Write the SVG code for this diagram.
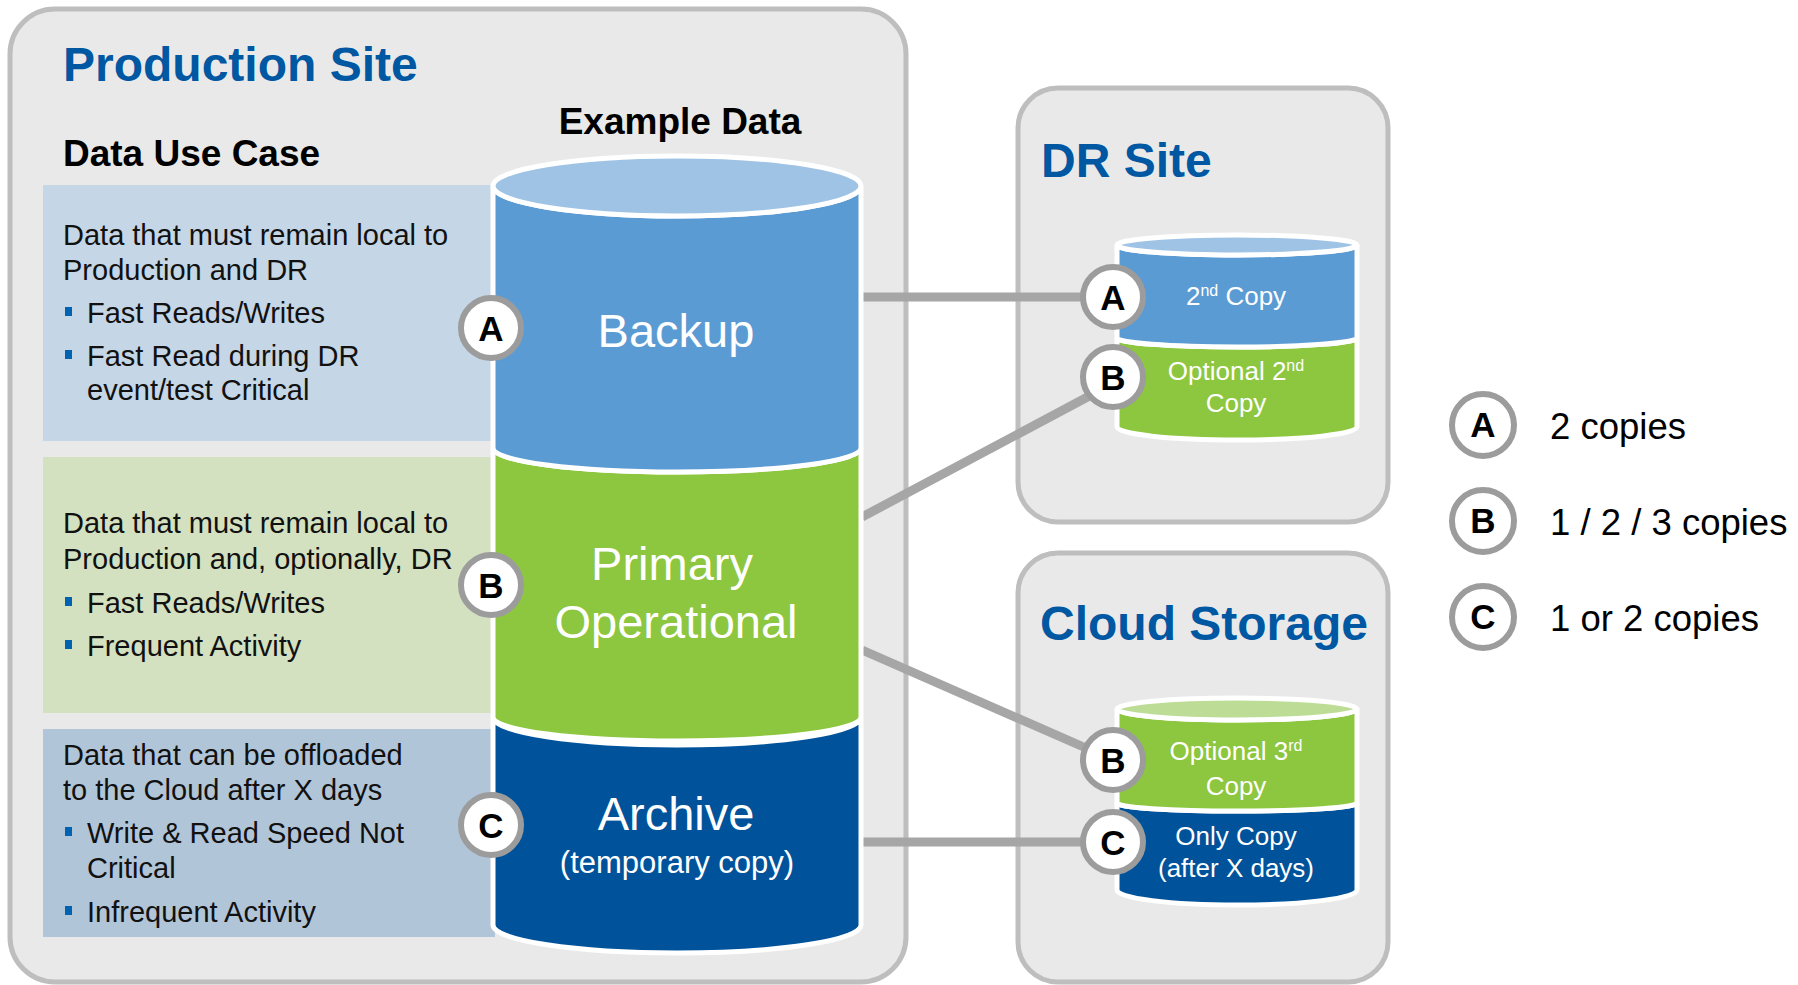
<svg xmlns="http://www.w3.org/2000/svg" width="1798" height="985" viewBox="0 0 1798 985">
<style>
.panel{fill:#E9E9E9;stroke:#BEBEBE;stroke-width:5}
.title{font-family:"Liberation Sans",Arial,sans-serif;font-weight:bold;font-size:48px;fill:#0057A2}
.head{font-family:"Liberation Sans",Arial,sans-serif;font-weight:bold;font-size:37px;fill:#000}
.body{font-family:"Liberation Sans",Arial,sans-serif;font-size:29px;fill:#111}
.big{font-family:"Liberation Sans",Arial,sans-serif;font-size:47px;fill:#fff;text-anchor:middle}
.mid{font-family:"Liberation Sans",Arial,sans-serif;font-size:31px;fill:#fff;text-anchor:middle}
.small{font-family:"Liberation Sans",Arial,sans-serif;font-size:26px;fill:#fff;text-anchor:middle}
.leg{font-family:"Liberation Sans",Arial,sans-serif;font-size:36.5px;fill:#000}
.seg{stroke:#fff;stroke-width:5}
.circ{fill:#fff;stroke:#9C9C9C;stroke-width:6}
.clab{font-family:"Liberation Sans",Arial,sans-serif;font-weight:bold;font-size:35px;fill:#000;text-anchor:middle}
.bul{fill:#0063B1}
.conn{stroke:#A6A6A6;stroke-width:9;fill:none}
</style>

<g id="production-site">
<rect class="panel" x="10" y="9" width="896" height="973" rx="45"/>
<text class="title" x="63" y="81">Production Site</text>
<text class="head" x="680" y="134" text-anchor="middle">Example Data</text>
<text class="head" x="63" y="166">Data Use Case</text>
</g>

<g id="dr-site">
<rect class="panel" x="1018" y="88" width="370" height="434" rx="40"/>
<text class="title" x="1041" y="177">DR Site</text>
</g>

<g id="cloud-storage">
<rect class="panel" x="1018" y="553" width="370" height="429" rx="40"/>
<text class="title" x="1040" y="640">Cloud Storage</text>
</g>

<g id="usecase-backup">
<rect x="43" y="185" width="452" height="256" fill="#C5D6E6"/>
<text class="body" x="63" y="245">Data that must remain local to</text>
<text class="body" x="63" y="280">Production and DR</text>
<rect class="bul" x="65" y="307" width="7" height="9"/>
<text class="body" x="87" y="323">Fast Reads/Writes</text>
<rect class="bul" x="65" y="350" width="7" height="9"/>
<text class="body" x="87" y="366">Fast Read during DR</text>
<text class="body" x="87" y="400">event/test Critical</text>
</g>

<g id="usecase-primary">
<rect x="43" y="457" width="452" height="256" fill="#D4E1C0"/>
<text class="body" x="63" y="533">Data that must remain local to</text>
<text class="body" x="63" y="569">Production and, optionally, DR</text>
<rect class="bul" x="65" y="597" width="7" height="9"/>
<text class="body" x="87" y="613">Fast Reads/Writes</text>
<rect class="bul" x="65" y="640" width="7" height="9"/>
<text class="body" x="87" y="656">Frequent Activity</text>
</g>

<g id="usecase-archive">
<rect x="43" y="729" width="452" height="208" fill="#B1C5D8"/>
<text class="body" x="63" y="765">Data that can be offloaded</text>
<text class="body" x="63" y="800">to the Cloud after X days</text>
<rect class="bul" x="65" y="827" width="7" height="9"/>
<text class="body" x="87" y="843">Write &amp; Read Speed Not</text>
<text class="body" x="87" y="878">Critical</text>
<rect class="bul" x="65" y="906" width="7" height="9"/>
<text class="body" x="87" y="922">Infrequent Activity</text>
</g>

<g id="connectors">
<line class="conn" x1="860" y1="297" x2="1090" y2="297"/>
<line class="conn" x1="862" y1="517" x2="1095" y2="393"/>
<line class="conn" x1="862" y1="650" x2="1095" y2="752"/>
<line class="conn" x1="860" y1="842" x2="1090" y2="842"/>
</g>

<g id="cylinder-main">
<path class="seg" fill="#00539B" d="M493,717 L493,925 A184,28 0 0 0 861,925 L861,717 A184,28 0 0 1 493,717 Z"/>
<path class="seg" fill="#8DC63F" d="M493,448 L493,717 A184,24 0 0 0 861,717 L861,448 A184,24 0 0 1 493,448 Z"/>
<path class="seg" fill="#5B9BD3" d="M493,186 L493,448 A184,24 0 0 0 861,448 L861,186 A184,30 0 0 1 493,186 Z"/>
<ellipse class="seg" fill="#9FC3E5" cx="677" cy="186" rx="184" ry="30"/>
<text class="big" x="676" y="347">Backup</text>
<text class="big" x="672" y="580">Primary</text>
<text class="big" x="676" y="638">Operational</text>
<text class="big" x="676" y="830">Archive</text>
<text class="mid" x="677" y="873">(temporary copy)</text>
</g>

<g id="cylinder-dr">
<path class="seg" fill="#8DC63F" d="M1117,338 L1117,427 A120,13 0 0 0 1357,427 L1357,338 A120,9 0 0 1 1117,338 Z"/>
<path class="seg" fill="#5B9BD3" d="M1117,245 L1117,338 A120,9 0 0 0 1357,338 L1357,245 A120,10 0 0 1 1117,245 Z"/>
<ellipse class="seg" fill="#9FC3E5" cx="1237" cy="245" rx="120" ry="10"/>
<text class="small" x="1236" y="305">2<tspan font-size="16" dy="-9">nd</tspan><tspan dy="9"> Copy</tspan></text>
<text class="small" x="1236" y="380">Optional 2<tspan font-size="16" dy="-9">nd</tspan></text>
<text class="small" x="1236" y="412">Copy</text>
</g>

<g id="cylinder-cloud">
<path class="seg" fill="#00539B" d="M1117,803 L1117,890 A120,15 0 0 0 1357,890 L1357,803 A120,8 0 0 1 1117,803 Z"/>
<path class="seg" fill="#8DC63F" d="M1117,709 L1117,803 A120,8 0 0 0 1357,803 L1357,709 A120,11 0 0 1 1117,709 Z"/>
<ellipse class="seg" fill="#BDDD96" cx="1237" cy="709" rx="120" ry="11"/>
<text class="small" x="1236" y="760">Optional 3<tspan font-size="16" dy="-9">rd</tspan></text>
<text class="small" x="1236" y="795">Copy</text>
<text class="small" x="1236" y="845">Only Copy</text>
<text class="small" x="1236" y="877">(after X days)</text>
</g>

<g id="badge-main-a"><circle class="circ" cx="491" cy="328" r="30"/><text class="clab" x="491" y="341">A</text></g>
<g id="badge-main-b"><circle class="circ" cx="491" cy="585" r="30"/><text class="clab" x="491" y="598">B</text></g>
<g id="badge-main-c"><circle class="circ" cx="491" cy="825" r="30"/><text class="clab" x="491" y="838">C</text></g>
<g id="badge-dr-a"><circle class="circ" cx="1113" cy="297" r="30"/><text class="clab" x="1113" y="310">A</text></g>
<g id="badge-dr-b"><circle class="circ" cx="1113" cy="377" r="30"/><text class="clab" x="1113" y="390">B</text></g>
<g id="badge-cloud-b"><circle class="circ" cx="1113" cy="760" r="30"/><text class="clab" x="1113" y="773">B</text></g>
<g id="badge-cloud-c"><circle class="circ" cx="1113" cy="842" r="30"/><text class="clab" x="1113" y="855">C</text></g>

<g id="legend">
<circle class="circ" cx="1483" cy="425" r="31" stroke-width="5"/><text class="clab" x="1483" y="437">A</text>
<text class="leg" x="1550" y="439">2 copies</text>
<circle class="circ" cx="1483" cy="521" r="31" stroke-width="5"/><text class="clab" x="1483" y="533">B</text>
<text class="leg" x="1550" y="535">1 / 2 / 3 copies</text>
<circle class="circ" cx="1483" cy="617" r="31" stroke-width="5"/><text class="clab" x="1483" y="629">C</text>
<text class="leg" x="1550" y="631">1 or 2 copies</text>
</g>
</svg>
